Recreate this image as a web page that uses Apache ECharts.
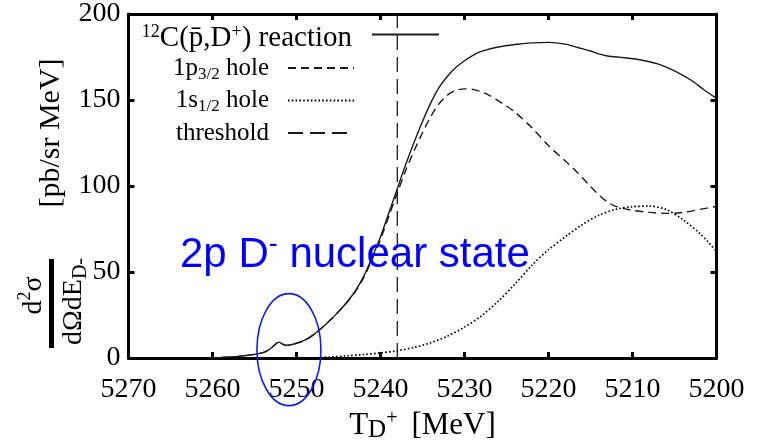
<!DOCTYPE html>
<html>
<head>
<meta charset="utf-8">
<script src="https://cdn.jsdelivr.net/npm/echarts@6/dist/echarts.min.js"></script>
<style>
  html, body { margin: 0; padding: 0; background: #fff; }
  #chart { width: 763px; height: 448px; }
</style>
</head>
<body>
<div id="chart"></div>
<script>
// D+ kinetic energy axis [MeV] and double-differential cross sections [pb/sr MeV]
const energyTotal = [5260.5, 5259, 5258, 5257, 5256, 5255, 5254, 5253.3, 5252.6, 5252.1, 5251.6, 5251.1,
  5250.3, 5249, 5248, 5247, 5246, 5245, 5244, 5243, 5242, 5241, 5240, 5239, 5238, 5237, 5236, 5235,
  5234, 5233, 5232, 5231, 5230, 5229, 5228, 5226, 5224, 5222, 5220, 5218, 5216.5, 5215, 5214, 5213,
  5211, 5209, 5207, 5205, 5203, 5201.5, 5200];
const crossTotal = [0, 0.3, 0.6, 1.0, 1.5, 2.2, 3.2, 4.8, 7.6, 9.3, 8.0, 7.4,
  8.2, 10.4, 13.5, 17.5, 22, 27, 32.5, 39, 47.5, 58.5, 70.5, 84.5, 98.5, 112.5, 125.5, 137.5,
  148.5, 157.5, 164, 169, 172.8, 176, 178.3, 180.8, 182.3, 183.2, 183.5, 182.5, 180.5, 178.5, 176.8, 175.6,
  174.6, 173.3, 171, 167, 161.5, 156, 151];

const energyP32 = [5260.5, 5259, 5258, 5257, 5256, 5255, 5254, 5253.3, 5252.6, 5252.1, 5251.6, 5251.1,
  5250.3, 5249, 5248, 5247, 5246, 5245, 5244, 5243, 5242, 5241, 5240, 5239, 5238, 5237, 5236, 5235,
  5234, 5233, 5232, 5231, 5230, 5229, 5228, 5227, 5226, 5225, 5224, 5222, 5220, 5218, 5217, 5216,
  5215, 5214, 5213, 5212, 5211, 5210, 5208, 5206, 5204, 5202, 5200];
const crossP32 = [0, 0.3, 0.6, 1.0, 1.5, 2.2, 3.2, 4.8, 7.6, 9.3, 8.0, 7.4,
  8.2, 10.4, 13.5, 17.5, 22, 27, 32.5, 38.6, 46.8, 57.3, 69, 82.5, 96, 109, 120.5, 131,
  140.5, 148, 153, 155.6, 156.5, 156.2, 154.8, 152.6, 149.6, 146.5, 143, 134, 123.5, 114.5, 110, 105,
  99.8, 94.8, 90.8, 88.2, 86.9, 85.9, 84.7, 84.1, 84.7, 86.4, 88.2];

const energyS12 = [5248, 5246, 5244, 5242, 5240, 5238, 5236, 5234, 5232, 5230, 5228, 5226, 5224,
  5222, 5220, 5218, 5216, 5214, 5212, 5210, 5208, 5206, 5204, 5202, 5201, 5200];
const crossS12 = [0, 0.6, 1.3, 2.1, 3.0, 4.3, 6.2, 9.0, 12.8, 18, 24.5, 33, 43,
  53.8, 63, 70.5, 77.5, 83, 86.5, 88, 88.3, 86.4, 80.5, 72.5, 67.5, 62];

const thresholdEnergy = 5238;
const thresholdSpan = [0, 200];

const xRange = [5200, 5270];
const xStep = 10;
const yRange = [0, 200];
const yStep = 50;

const seriesNames = ['total', 'p32', 's12', 'threshold'];
const legendLabels = {
  total: '{sup|12}{t|C(p\u0304,D}{sup|+}{t|) reaction}',
  p32: '{t|1p}{sub|3/2}{t| hole}',
  s12: '{t|1s}{sub|1/2}{t| hole}',
  threshold: '{t|threshold}'
};

const serif = 'Liberation Serif';
const sans = 'Liberation Sans';
const ink = '#1a1a1a';

function pairs(xs, ys) { return xs.map((x, i) => [x, ys[i]]); }

const chart = echarts.init(document.getElementById('chart'), null, { renderer: 'canvas' });

const axisLineStyle = { color: '#000', width: 3 };
const tickStyle = { show: true, inside: true, length: 6, lineStyle: { color: '#000', width: 3 } };
const tickText = {
  formatter: (v) => '{n|' + String(v) + '}',
  rich: { n: { fontSize: 28, fontFamily: serif, color: '#000' } }
};
const hiddenLegendSymbol = { color: 'rgba(0,0,0,0)', borderColor: 'rgba(0,0,0,0)', borderWidth: 0, opacity: 0 };

chart.setOption({
  backgroundColor: '#fff',
  animation: false,
  grid: { left: 128.5, right: 46.5, top: 14, bottom: 86.5 },
  xAxis: [{
    type: 'value', min: xRange[0], max: xRange[1], interval: xStep, inverse: true,
    position: 'bottom',
    axisLine: { show: true, onZero: false, lineStyle: axisLineStyle },
    axisTick: tickStyle,
    splitLine: { show: false },
    axisLabel: Object.assign({ show: true, margin: 18, showMinLabel: true, showMaxLabel: true }, tickText),
    name: '{t|T}{sub|D}{sup|+}{sp| }{t|[MeV]}',
    nameLocation: 'middle', nameGap: 50,
    nameTextStyle: {
      rich: {
        t: { fontSize: 31, fontFamily: serif, color: '#000', lineHeight: 34 },
        sub: { fontSize: 25, fontFamily: serif, color: '#000', lineHeight: 22, verticalAlign: 'bottom' },
        sup: { fontSize: 20, fontFamily: serif, color: '#000', lineHeight: 30, verticalAlign: 'top' },
        sp: { fontSize: 20, fontFamily: serif, lineHeight: 34, width: 14 }
      }
    }
  }, {
    type: 'value', min: xRange[0], max: xRange[1], interval: xStep, inverse: true,
    position: 'top',
    axisLine: { show: true, onZero: false, lineStyle: axisLineStyle },
    axisTick: tickStyle,
    splitLine: { show: false },
    axisLabel: { show: false }
  }],
  yAxis: [{
    type: 'value', min: yRange[0], max: yRange[1], interval: yStep,
    position: 'left',
    axisLine: { show: true, onZero: false, lineStyle: axisLineStyle },
    axisTick: tickStyle,
    splitLine: { show: false },
    axisLabel: Object.assign({ show: true, margin: 8, showMinLabel: true, showMaxLabel: true }, tickText)
  }, {
    type: 'value', min: yRange[0], max: yRange[1], interval: yStep,
    position: 'right',
    axisLine: { show: true, onZero: false, lineStyle: axisLineStyle },
    axisTick: tickStyle,
    splitLine: { show: false },
    axisLabel: { show: false }
  }],
  legend: [{
    data: ['total'],
    orient: 'vertical', align: 'right',
    right: 323, top: 15.5, padding: 0,
    itemWidth: 67, itemHeight: 14,
    itemStyle: hiddenLegendSymbol,
    formatter: (n) => legendLabels[n],
    textStyle: {
      padding: [8, 15, 0, 0], lineHeight: 30,
      rich: {
        t: { fontSize: 29, fontFamily: serif, color: '#000', lineHeight: 30 },
        sup: { fontSize: 18, fontFamily: serif, color: '#000', lineHeight: 14, verticalAlign: 'top' }
      }
    }
  }, {
    data: ['p32', 's12', 'threshold'],
    orient: 'vertical', align: 'right',
    right: 408, top: 53, padding: 0, itemGap: 2.5,
    itemWidth: 66, itemHeight: 14,
    itemStyle: hiddenLegendSymbol,
    formatter: (n) => legendLabels[n],
    textStyle: {
      padding: [0, 14, 0, 0], lineHeight: 30,
      rich: {
        t: { fontSize: 25, fontFamily: serif, color: '#000', lineHeight: 30 },
        sub: { fontSize: 17, fontFamily: serif, color: '#000', lineHeight: 16, verticalAlign: 'bottom' }
      }
    }
  }],
  series: [{
    name: seriesNames[0], type: 'line', symbol: 'none', smooth: 0.3,
    data: pairs(energyTotal, crossTotal),
    lineStyle: { color: ink, width: 1.4, type: 'solid' }, itemStyle: { color: ink }, z: 5
  }, {
    name: seriesNames[1], type: 'line', symbol: 'none', smooth: 0.3,
    data: pairs(energyP32, crossP32),
    lineStyle: { color: ink, width: 1.4, type: [8, 5] }, itemStyle: { color: ink }, z: 4
  }, {
    name: seriesNames[2], type: 'line', symbol: 'none', smooth: 0.3,
    data: pairs(energyS12, crossS12),
    lineStyle: { color: '#000', width: 1.7, type: [1.6, 2.2] }, itemStyle: { color: '#000' }, z: 4
  }, {
    name: seriesNames[3], type: 'line', symbol: 'none',
    data: thresholdSpan.map(v => [thresholdEnergy, v]),
    lineStyle: { color: ink, width: 1.3, type: [15, 7] }, itemStyle: { color: ink }, z: 3
  }]
});

// Annotation of the bound-state bump and the y-axis title
const bump = chart.convertToPixel({ xAxisIndex: 0, yAxisIndex: 0 }, [5250.9, 4.9]);
chart.setOption({
  graphic: [{
    type: 'ellipse', shape: { cx: bump[0], cy: bump[1], rx: 32, ry: 56 },
    style: { fill: 'none', stroke: '#0a1ef0', lineWidth: 1.6 }, z: 20
  }, {
    type: 'text', x: 180, y: 255,
    style: {
      text: '{a|2p D}{s|-}{a| nuclear state}',
      align: 'left', verticalAlign: 'middle',
      rich: {
        a: { fontSize: 42, fontFamily: sans, fill: '#0000ff', lineHeight: 48 },
        s: { fontSize: 27, fontFamily: sans, fill: '#0000ff', lineHeight: 44, verticalAlign: 'top' }
      }
    }, z: 20
  }, {
    type: 'text', x: 51, y: 133, rotation: Math.PI / 2,
    style: {
      text: '{a|[pb/sr MeV]}', align: 'center', verticalAlign: 'middle',
      rich: { a: { fontSize: 30, fontFamily: serif, fill: '#000', lineHeight: 34 } }
    }
  }, {
    type: 'text', x: 33.5, y: 295.5, rotation: Math.PI / 2,
    style: {
      text: '{a|d}{sup|2}{a|\u03c3}', align: 'center', verticalAlign: 'middle',
      rich: {
        a: { fontSize: 28, fontFamily: serif, fill: '#000', lineHeight: 34 },
        sup: { fontSize: 18, fontFamily: serif, fill: '#000', lineHeight: 20, verticalAlign: 'top' }
      }
    }
  }, {
    type: 'rect', shape: { x: 49, y: 259, width: 5, height: 89 },
    style: { fill: '#000' }
  }, {
    type: 'text', x: 73.5, y: 301.5, rotation: Math.PI / 2,
    style: {
      text: '{a|d\u03a9dE}{sub|D}{m|-}', align: 'center', verticalAlign: 'middle',
      rich: {
        a: { fontSize: 28, fontFamily: serif, fill: '#000', lineHeight: 34 },
        sub: { fontSize: 20, fontFamily: serif, fill: '#000', lineHeight: 21, verticalAlign: 'bottom' },
        m: { fontSize: 20, fontFamily: serif, fill: '#000', lineHeight: 27, verticalAlign: 'bottom' }
      }
    }
  }]
});
</script>
</body>
</html>
